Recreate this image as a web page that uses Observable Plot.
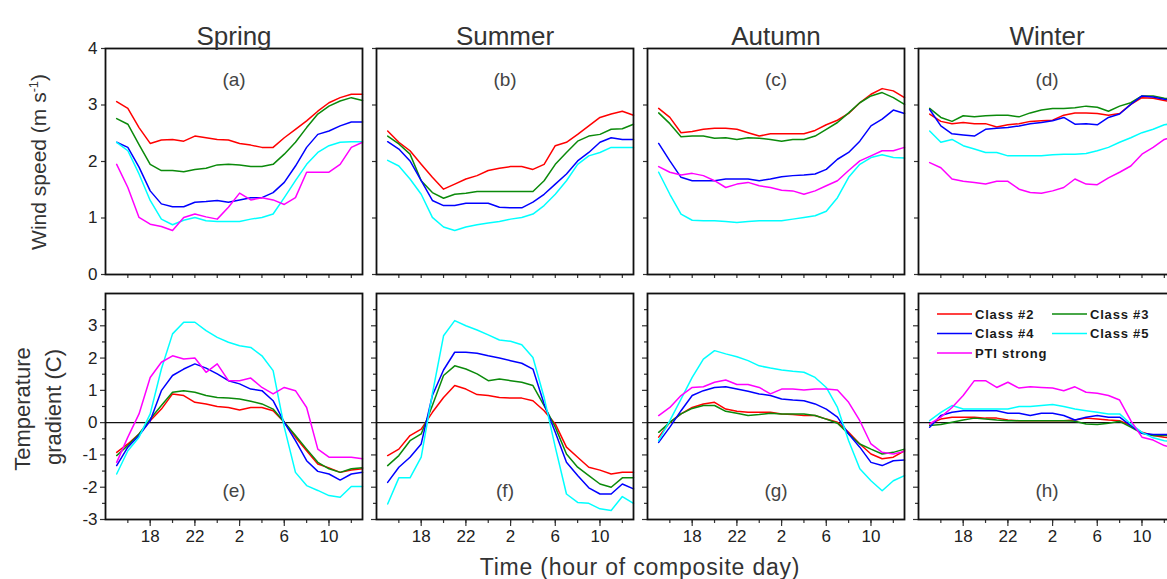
<!DOCTYPE html>
<html><head><meta charset="utf-8">
<script src="https://cdn.jsdelivr.net/npm/d3@7"></script>
<script src="https://cdn.jsdelivr.net/npm/@observablehq/plot@0.6"></script>
<style>
html,body{margin:0;padding:0;background:#fff;overflow:hidden;}
#wrap{position:relative;width:1167px;height:579px;overflow:hidden;font-family:"Liberation Sans",Arial,sans-serif;color:#333;}
#inner{position:absolute;left:0;top:0;width:1177px;height:579px;}
.abs{position:absolute;white-space:nowrap;}
</style></head><body><div id="wrap"><div id="inner"></div></div>
<script>
const seasons = ["Spring","Summer","Autumn","Winter"];
const classes = ["Class #2","Class #3","Class #4","Class #5","PTI strong"];
const colors = ["#ff0000","#0b8a0b","#0000ff","#00ffff","#ff00ff"];
const hours = [15,16,17,18,19,20,21,22,23,24,25,26,27,28,29,30,31,32,33,34,35,36,37];
const xMajorTicks = [18,22,26,30,34];
const xTickLabels = ["18","22","2","6","10"];
const xMinorTicks = [16,18,20,22,24,26,28,30,32,34,36];
const windTicks = [0,1,2,3,4];
const tempTicks = [-3,-2,-1,0,1,2,3];
const tempMinorTicks = [-2.5,-1.5,-0.5,0.5,1.5,2.5,3.5];
const topLetters = ["(a)","(b)","(c)","(d)"];
const bottomLetters = ["(e)","(f)","(g)","(h)"];

// Wind speed (m s-1), series order: Class #2, #3, #4, #5, PTI strong
const windSpring = [
  [3.06,2.94,2.6,2.32,2.38,2.39,2.36,2.45,2.42,2.39,2.38,2.32,2.29,2.25,2.25,2.42,2.57,2.72,2.89,3.04,3.13,3.19,3.19],
  [2.76,2.66,2.3,1.95,1.84,1.84,1.82,1.86,1.88,1.94,1.95,1.94,1.91,1.91,1.95,2.13,2.34,2.6,2.84,2.98,3.07,3.13,3.08],
  [2.34,2.25,1.9,1.48,1.25,1.2,1.2,1.28,1.29,1.31,1.28,1.32,1.36,1.36,1.45,1.63,1.92,2.25,2.48,2.54,2.63,2.7,2.7],
  [2.34,2.19,1.78,1.31,0.98,0.88,0.96,1.01,0.95,0.94,0.94,0.94,0.98,1.01,1.07,1.36,1.66,1.95,2.16,2.28,2.34,2.35,2.35],
  [1.95,1.54,1.01,0.89,0.85,0.78,1.01,1.07,1.02,0.98,1.19,1.44,1.32,1.36,1.32,1.24,1.36,1.81,1.81,1.81,1.95,2.25,2.34]
];
const windSummer = [
  [2.54,2.34,2.19,1.95,1.72,1.51,1.6,1.69,1.75,1.84,1.88,1.91,1.91,1.86,1.95,2.28,2.34,2.48,2.63,2.78,2.84,2.89,2.82],
  [2.45,2.31,2.13,1.66,1.45,1.35,1.42,1.44,1.47,1.47,1.47,1.47,1.47,1.47,1.66,1.95,2.16,2.36,2.45,2.48,2.57,2.58,2.66],
  [2.35,2.22,2.01,1.66,1.31,1.22,1.22,1.26,1.26,1.26,1.19,1.18,1.18,1.28,1.42,1.6,1.78,2.01,2.16,2.34,2.42,2.39,2.39],
  [2.02,1.92,1.69,1.42,1.01,0.84,0.78,0.84,0.88,0.91,0.94,0.98,1.01,1.07,1.22,1.42,1.66,1.95,2.1,2.16,2.25,2.25,2.25]
];
const windAutumn = [
  [2.94,2.78,2.51,2.53,2.57,2.59,2.59,2.57,2.51,2.45,2.49,2.49,2.49,2.49,2.55,2.65,2.73,2.85,3.04,3.19,3.29,3.25,3.13],
  [2.86,2.67,2.44,2.45,2.45,2.41,2.42,2.39,2.42,2.41,2.39,2.36,2.39,2.39,2.45,2.57,2.69,2.86,3.04,3.16,3.22,3.13,3.01],
  [2.32,2.01,1.72,1.66,1.66,1.66,1.69,1.69,1.69,1.66,1.69,1.73,1.75,1.76,1.78,1.86,2.04,2.16,2.36,2.63,2.75,2.91,2.85],
  [1.81,1.42,1.07,0.96,0.95,0.95,0.94,0.92,0.94,0.95,0.95,0.95,0.98,1.01,1.04,1.12,1.36,1.72,1.95,2.07,2.12,2.07,2.06],
  [1.91,1.81,1.76,1.79,1.75,1.66,1.54,1.6,1.63,1.57,1.54,1.49,1.48,1.42,1.48,1.57,1.66,1.84,2.01,2.1,2.19,2.19,2.25]
];
const windWinter = [
  [2.84,2.71,2.67,2.69,2.67,2.67,2.61,2.65,2.67,2.71,2.72,2.73,2.82,2.86,2.86,2.85,2.82,2.85,3.01,3.13,3.12,3.08,3.05],
  [2.94,2.78,2.71,2.81,2.79,2.81,2.82,2.82,2.79,2.86,2.91,2.94,2.94,2.95,2.98,2.96,2.89,2.98,3.04,3.16,3.16,3.12,3.1],
  [2.92,2.63,2.49,2.47,2.45,2.57,2.59,2.6,2.63,2.67,2.69,2.72,2.78,2.66,2.67,2.65,2.78,2.84,3.01,3.16,3.14,3.1,3.08],
  [2.54,2.34,2.39,2.28,2.22,2.16,2.16,2.1,2.1,2.1,2.1,2.12,2.13,2.13,2.14,2.19,2.25,2.34,2.42,2.51,2.57,2.65,2.68],
  [1.98,1.89,1.69,1.65,1.63,1.6,1.65,1.65,1.51,1.45,1.44,1.48,1.54,1.69,1.6,1.59,1.71,1.81,1.92,2.13,2.25,2.39,2.45]
];
// Temperature gradient (C)
const tempSpring = [
  [-0.92,-0.66,-0.35,0.06,0.42,0.89,0.84,0.63,0.58,0.5,0.47,0.39,0.47,0.47,0.37,0.01,-0.45,-0.87,-1.28,-1.4,-1.54,-1.47,-1.43],
  [-1.02,-0.71,-0.35,0.11,0.53,0.94,0.99,0.94,0.84,0.78,0.76,0.73,0.66,0.58,0.42,0.01,-0.4,-0.82,-1.23,-1.43,-1.54,-1.43,-1.4],
  [-1.33,-0.76,-0.4,0.06,0.99,1.46,1.66,1.82,1.69,1.51,1.3,1.2,1.04,0.99,0.68,0.01,-0.56,-1.18,-1.51,-1.59,-1.78,-1.59,-1.54],
  [-1.59,-0.87,-0.45,0.27,1.66,2.75,3.11,3.11,2.85,2.64,2.49,2.38,2.33,2.07,1.61,-0.14,-1.54,-1.95,-2.1,-2.26,-2.31,-1.98,-1.98],
  [-1.23,-0.45,0.27,1.4,1.87,2.07,1.97,2.0,1.56,1.82,1.3,1.3,1.38,1.09,0.89,1.09,0.99,0.47,-0.82,-1.07,-1.07,-1.07,-1.12]
];
const tempSummer = [
  [-1.02,-0.82,-0.4,-0.2,0.32,0.78,1.15,1.04,0.87,0.84,0.78,0.76,0.76,0.68,0.37,-0.04,-0.76,-1.07,-1.38,-1.47,-1.59,-1.54,-1.54],
  [-1.33,-1.02,-0.56,-0.35,0.53,1.46,1.76,1.66,1.51,1.3,1.35,1.3,1.25,1.15,0.53,-0.14,-0.97,-1.38,-1.64,-1.9,-2.0,-1.71,-1.71],
  [-1.85,-1.38,-1.07,-0.66,0.84,1.63,2.18,2.18,2.15,2.07,2.0,1.92,1.84,1.66,0.58,-0.3,-1.23,-1.64,-2.02,-2.21,-2.21,-1.9,-2.05],
  [-2.52,-1.71,-1.71,-1.07,0.89,2.69,3.16,3.0,2.87,2.72,2.56,2.52,2.41,2.02,0.78,-0.76,-2.21,-2.47,-2.5,-2.67,-2.72,-2.29,-2.5]
];
const tempAutumn = [
  [-0.45,0.01,0.27,0.47,0.58,0.63,0.42,0.35,0.32,0.32,0.32,0.27,0.25,0.22,0.22,0.11,0.01,-0.3,-0.66,-0.97,-1.12,-1.07,-0.87],
  [-0.3,0.01,0.27,0.44,0.53,0.53,0.35,0.29,0.22,0.25,0.29,0.27,0.27,0.27,0.22,0.11,-0.02,-0.35,-0.66,-0.82,-0.97,-0.92,-0.82],
  [-0.61,-0.14,0.37,0.84,0.99,1.09,1.11,1.04,0.97,0.89,0.84,0.73,0.7,0.68,0.58,0.42,0.17,-0.35,-0.76,-1.23,-1.33,-1.18,-1.16],
  [-0.56,0.06,0.73,1.4,1.97,2.23,2.13,2.04,1.92,1.76,1.69,1.63,1.59,1.56,1.4,1.09,0.47,-0.56,-1.43,-1.8,-2.11,-1.8,-1.64],
  [0.22,0.47,0.84,1.09,1.11,1.25,1.32,1.18,1.18,1.09,0.89,1.04,1.04,1.01,1.04,1.04,1.01,0.63,0.06,-0.66,-0.92,-0.97,-0.89]
];
const tempWinter = [
  [-0.04,0.11,0.17,0.17,0.17,0.14,0.14,0.08,0.06,0.06,0.06,0.06,0.06,0.08,0.14,0.11,0.08,0.06,-0.09,-0.3,-0.4,-0.45,-0.48],
  [-0.09,-0.06,0.01,0.08,0.14,0.11,0.08,0.06,0.06,0.06,0.06,0.06,0.06,0.04,-0.04,-0.06,-0.02,0.04,-0.14,-0.33,-0.4,-0.4,-0.4],
  [-0.14,0.22,0.32,0.37,0.37,0.37,0.37,0.29,0.29,0.22,0.29,0.29,0.22,0.08,0.17,0.22,0.17,0.17,-0.09,-0.33,-0.37,-0.37,-0.37],
  [0.06,0.32,0.53,0.42,0.42,0.42,0.42,0.42,0.5,0.5,0.53,0.56,0.5,0.42,0.37,0.32,0.27,0.27,-0.04,-0.3,-0.47,-0.56,-0.6],
  [-0.04,0.17,0.47,0.84,1.3,1.3,1.09,1.25,1.07,1.11,1.09,1.07,0.99,1.11,0.94,0.91,0.84,0.7,0.06,-0.45,-0.54,-0.71,-0.8]
];

function rows(season, series) {
  return series.flatMap((vals, k) => vals.map((v, i) => ({season, cls: classes[k], h: hours[i], v})));
}
const windRows = [
  ...rows("Spring", windSpring), ...rows("Summer", windSummer),
  ...rows("Autumn", windAutumn), ...rows("Winter", windWinter)
];
const tempRows = [
  ...rows("Spring", tempSpring), ...rows("Summer", tempSummer),
  ...rows("Autumn", tempAutumn), ...rows("Winter", tempWinter)
];

const FONT = '"Liberation Sans", Arial, sans-serif';
const common = {
  width: 1177, marginLeft: 104, marginRight: 0,
  style: {fontFamily: FONT, background: "transparent", maxWidth: "none", overflow: "visible"},
  fx: {domain: seasons, paddingInner: 0.05, paddingOuter: 0, axis: null},
  x: {domain: [14, 37], axis: null},
  color: {domain: classes, range: colors}
};
const fmt = d => String(d);

const topPlot = Plot.plot({
  ...common,
  height: 283, marginTop: 48, marginBottom: 9,
  y: {domain: [0, 4], axis: null},
  marks: [
    Plot.axisX({ticks: xMinorTicks, tickSize: 4, fill: "none", label: null, facetAnchor: null, strokeWidth: 1.2}),
    Plot.axisY({ticks: windTicks, tickSize: 4, fill: "none", label: null, facetAnchor: null, strokeWidth: 1.2}),
    Plot.axisY({ticks: windTicks, tickSize: 0, tickPadding: 8, label: null, fontSize: 17, fill: "#222", tickFormat: fmt}),
    Plot.line(windRows, {fx: "season", x: "h", y: "v", z: "cls", stroke: "cls", strokeWidth: 1.5}),
    Plot.frame({stroke: "#111", strokeWidth: 1.8}),
    Plot.text(seasons, {fx: d => d, text: d => d, frameAnchor: "top", dy: -22, fontSize: 26, fill: "#333", style: "letter-spacing:1px"}),
    Plot.text(topLetters, {fx: (d, i) => seasons[i], text: d => d, frameAnchor: "top", dy: 24, fontSize: 19, fill: "#444"})
  ]
});

const bottomPlot = Plot.plot({
  ...common,
  height: 296, marginTop: 10, marginBottom: 60,
  y: {domain: [-3, 4], axis: null},
  marks: [
    Plot.axisX({ticks: xMinorTicks, tickSize: 4, fill: "none", label: null, facetAnchor: null, strokeWidth: 1.2}),
    Plot.axisX({ticks: xMajorTicks, tickSize: 7, tickPadding: 3, label: null, facetAnchor: null, fontSize: 17, fill: "#222", strokeWidth: 1.2,
      tickFormat: h => xTickLabels[xMajorTicks.indexOf(h)]}),
    Plot.axisY({ticks: tempMinorTicks, tickSize: 3, fill: "none", label: null, facetAnchor: null, strokeWidth: 1.2}),
    Plot.axisY({ticks: tempTicks, tickSize: 5, fill: "none", label: null, facetAnchor: null, strokeWidth: 1.2}),
    Plot.axisY({ticks: tempTicks, tickSize: 0, tickPadding: 8, label: null, fontSize: 17, fill: "#222", tickFormat: fmt}),
    Plot.ruleY([0], {stroke: "#111", strokeWidth: 1.4}),
    Plot.line(tempRows, {fx: "season", x: "h", y: "v", z: "cls", stroke: "cls", strokeWidth: 1.5}),
    Plot.frame({stroke: "#111", strokeWidth: 1.8}),
    Plot.text(bottomLetters, {fx: (d, i) => seasons[i], text: d => d, frameAnchor: "bottom", dy: -23, fontSize: 19, fill: "#444"})
  ]
});

// legend inside panel (h)
(function () {
  const fxS = bottomPlot.scale("fx");
  const lx = fxS.apply("Winter"), ly = 10;
  const g = d3.select(bottomPlot).append("g").attr("transform", `translate(${lx},${ly})`)
    .attr("font-family", FONT).attr("font-size", 13).attr("text-anchor", "start");
  const colX = [19, 134];
  classes.forEach((c, i) => {
    const col = i % 2, row = Math.floor(i / 2);
    const x0 = colX[col], y0 = 21 + row * 19.5;
    g.append("line").attr("x1", x0).attr("x2", x0 + 35).attr("y1", y0).attr("y2", y0)
      .attr("stroke", colors[i]).attr("stroke-width", 1.6);
    g.append("text").attr("x", x0 + 38).attr("y", y0 + 4.5).attr("fill", "#1a1a1a")
      .attr("text-anchor", "start").style("letter-spacing", "0.8px").style("font-weight", "600").text(c);
  });
})();

const inner = document.getElementById("inner");
topPlot.style.position = "absolute"; topPlot.style.left = "0px"; topPlot.style.top = "0px";
bottomPlot.style.position = "absolute"; bottomPlot.style.left = "0px"; bottomPlot.style.top = "283px";
inner.appendChild(topPlot);
inner.appendChild(bottomPlot);

function addText(html, x, y, size, rotate, extra) {
  const d = document.createElement("div");
  d.className = "abs";
  d.innerHTML = html;
  d.style.left = x + "px"; d.style.top = y + "px";
  d.style.fontSize = size + "px";
  d.style.lineHeight = "1";
  d.style.transform = `translate(-50%,-50%)` + (rotate ? " rotate(-90deg)" : "");
  if (extra) Object.assign(d.style, extra);
  inner.appendChild(d);
}
addText('Wind speed (m s<sup style="font-size:60%;vertical-align:60%">-1</sup>)', 38, 162, 21, true);
addText('Temperature', 23, 409, 22, true);
addText('gradient (C)', 54, 407, 22, true);
addText('Time (hour of composite day)', 640, 567, 23, false, {letterSpacing: "0.8px"});
</script></body></html>
